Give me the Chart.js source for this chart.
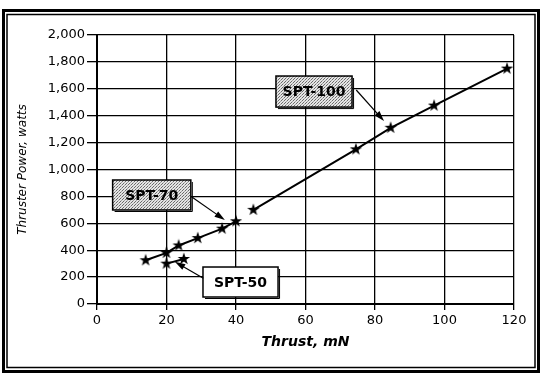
<!DOCTYPE html>
<html>
<head>
<title>Thruster Power vs Thrust</title>
<script src="https://cdn.jsdelivr.net/npm/chart.js"></script>
<style>
  body { margin: 0; background: #fff; }
</style>
</head>
<body>
<canvas id="grafik" width="549" height="383"></canvas>
<script>
// data
const xTicks = [0, 20, 40, 60, 80, 100, 120];
const yTicks = [0, 200, 400, 600, 800, 1000, 1200, 1400, 1600, 1800, 2000];

const spt50Thrust = [20, 25];
const spt50Power = [300, 335];

const spt70Thrust = [14, 20, 23.5, 29, 36, 40];
const spt70Power = [325, 380, 435, 490, 560, 615];

const spt100Thrust = [45, 74.5, 84.5, 97, 118];
const spt100Power = [700, 1150, 1310, 1475, 1750];

const seriesNames = ['SPT-50', 'SPT-70', 'SPT-100'];

// callout boxes, in data units (thrust, power)
const callouts = [
  { text: 'SPT-100', x0: 51.5, x1: 73.4, y0: 1464, y1: 1695, shaded: true, from: [74.6, 1591], to: [82.6, 1360] },
  { text: 'SPT-70',  x0: 4.5,  x1: 27,   y0: 699,  y1: 922,  shaded: true, from: [27.2, 798],  to: [36.8, 624] },
  { text: 'SPT-50',  x0: 30.5, x1: 52.1, y0: 52,   y1: 275,  shaded: false, from: [30.6, 191], to: [22.4, 314] }
];

function makeStar(size) {
  const c = document.createElement('canvas');
  c.width = size; c.height = size;
  const g = c.getContext('2d');
  const cx = size / 2, cy = size / 2, R = size / 2 - 0.5, r = R * 0.4;
  g.beginPath();
  for (let i = 0; i < 10; i++) {
    const a = -Math.PI / 2 + i * Math.PI / 5;
    const rad = i % 2 ? r : R;
    g.lineTo(cx + rad * Math.cos(a), cy + rad * Math.sin(a));
  }
  g.closePath();
  g.fillStyle = '#000';
  g.fill();
  return c;
}

function makeStipple() {
  const c = document.createElement('canvas');
  c.width = 3; c.height = 3;
  const g = c.getContext('2d');
  g.fillStyle = '#e4e4e4';
  g.fillRect(0, 0, 3, 3);
  g.fillStyle = '#6a6a6a';
  g.fillRect(0, 0, 1, 1);
  g.fillRect(2, 1, 1, 1);
  g.fillStyle = '#a0a0a0';
  g.fillRect(1, 2, 1, 1);
  return c;
}

const star = makeStar(14);
const ctx = document.getElementById('grafik').getContext('2d');
const stipple = ctx.createPattern(makeStipple(), 'repeat');

function toPoints(xs, ys) {
  return xs.map((x, i) => ({ x: x, y: ys[i] }));
}

function drawArrow(g, x1, y1, x2, y2) {
  const ang = Math.atan2(y2 - y1, x2 - x1);
  g.beginPath();
  g.moveTo(x1, y1);
  g.lineTo(x2 - 6 * Math.cos(ang), y2 - 6 * Math.sin(ang));
  g.stroke();
  g.beginPath();
  g.moveTo(x2, y2);
  g.lineTo(x2 - 11 * Math.cos(ang - 0.3), y2 - 11 * Math.sin(ang - 0.3));
  g.lineTo(x2 - 11 * Math.cos(ang + 0.3), y2 - 11 * Math.sin(ang + 0.3));
  g.closePath();
  g.fill();
}

const calloutPlugin = {
  id: 'callouts',
  afterDatasetsDraw(chart) {
    const g = chart.ctx;
    const xs = chart.scales.x, ys = chart.scales.y;
    g.save();
    callouts.forEach(c => {
      const left = xs.getPixelForValue(c.x0), right = xs.getPixelForValue(c.x1);
      const top = ys.getPixelForValue(c.y1), bottom = ys.getPixelForValue(c.y0);
      g.fillStyle = c.shaded ? stipple : '#fff';
      g.fillRect(left, top, right - left, bottom - top);
      g.strokeStyle = '#000';
      g.lineWidth = 1.5;
      g.strokeRect(left, top, right - left, bottom - top);
      g.lineWidth = 1;
      g.beginPath();
      g.moveTo(right + 1.5, top + 2);
      g.lineTo(right + 1.5, bottom + 1.5);
      g.lineTo(left + 2, bottom + 1.5);
      g.stroke();
      g.fillStyle = '#000';
      g.font = 'bold 14px "DejaVu Sans"';
      g.textAlign = 'center';
      g.textBaseline = 'middle';
      g.fillText(c.text, (left + right) / 2, (top + bottom) / 2 + 1);
      g.lineWidth = 1.2;
      drawArrow(g, xs.getPixelForValue(c.from[0]), ys.getPixelForValue(c.from[1]),
                xs.getPixelForValue(c.to[0]), ys.getPixelForValue(c.to[1]));
    });
    g.restore();
  },
  afterDraw(chart) {
    // double border round the figure
    const g = chart.ctx;
    g.save();
    g.strokeStyle = '#000';
    g.lineWidth = 3;
    g.strokeRect(3.5, 10.5, 535, 361);
    g.lineWidth = 1.5;
    g.strokeRect(7, 14.5, 528, 353);
    g.restore();
  }
};

const lineStyle = {
  borderColor: '#000',
  borderWidth: 2,
  backgroundColor: '#000',
  pointStyle: star,
  pointRadius: 7,
  tension: 0,
  showLine: true
};

var grafik = new Chart(ctx, {
  type: 'scatter',
  data: {
    datasets: [
      Object.assign({ label: seriesNames[0], data: toPoints(spt50Thrust, spt50Power) }, lineStyle),
      Object.assign({ label: seriesNames[1], data: toPoints(spt70Thrust, spt70Power) }, lineStyle),
      Object.assign({ label: seriesNames[2], data: toPoints(spt100Thrust, spt100Power) }, lineStyle)
    ]
  },
  options: {
    responsive: false,
    animation: false,
    layout: { padding: { left: 12, right: 35, top: 35, bottom: 30 } },
    plugins: {
      legend: { display: false },
      tooltip: { enabled: false }
    },
    scales: {
      x: {
        type: 'linear',
        min: xTicks[0],
        max: xTicks[xTicks.length - 1],
        afterBuildTicks: s => { s.ticks = xTicks.map(v => ({ value: v })); },
        afterFit: s => { s.height = 49; },
        grid: { color: '#000', lineWidth: 1.3, tickLength: 6, tickColor: '#000' },
        border: { color: '#000', width: 2 },
        ticks: { color: '#000', padding: 3, maxRotation: 0, font: { family: 'DejaVu Sans', size: 13 } },
        title: {
          display: true,
          text: 'Thrust, mN',
          color: '#000',
          font: { family: 'DejaVu Sans', size: 14, style: 'italic', weight: 'bold' },
          padding: { top: 2, bottom: 2 }
        }
      },
      y: {
        type: 'linear',
        min: yTicks[0],
        max: yTicks[yTicks.length - 1],
        afterBuildTicks: s => { s.ticks = yTicks.map(v => ({ value: v })); },
        afterFit: s => { s.width = 85; },
        grid: { color: '#000', lineWidth: 1.3, tickLength: 10, tickColor: '#000' },
        border: { color: '#000', width: 2 },
        ticks: {
          color: '#000',
          padding: 2,
          font: { family: 'DejaVu Sans', size: 13 },
          callback: v => v.toLocaleString('en-US')
        },
        title: {
          display: true,
          text: 'Thruster Power, watts',
          color: '#000',
          font: { family: 'DejaVu Sans', size: 12, style: 'italic' },
          padding: { top: 4, bottom: 4 }
        }
      }
    }
  },
  plugins: [calloutPlugin]
});
</script>
</body>
</html>
